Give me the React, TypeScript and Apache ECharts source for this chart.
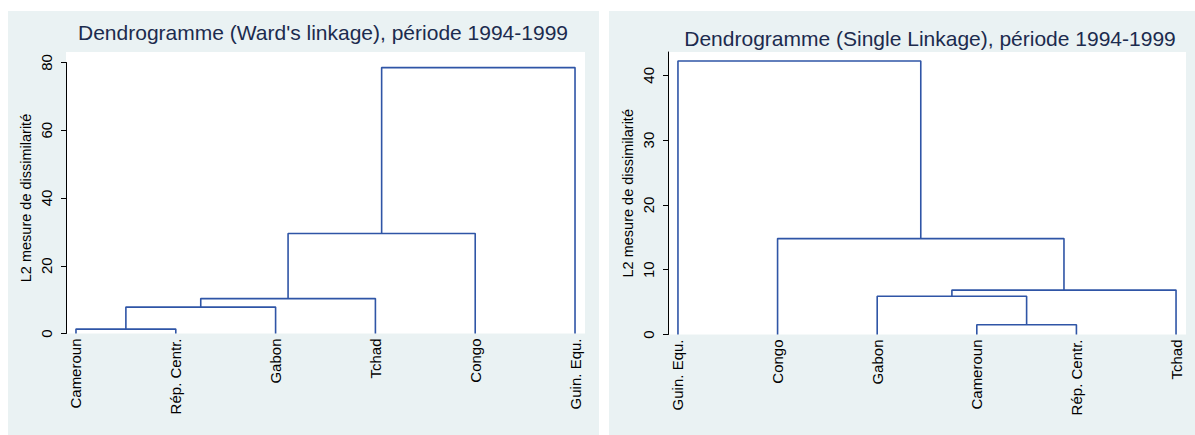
import React, { useEffect, useRef } from "react";
import * as echarts from "echarts";

// Leaves in dendrogram order; merges: [leftNode, rightNode, height]
// nodes 0..5 are leaves, 6.. are successive merges
const wardLeaves = ["Cameroun", "Rép. Centr.", "Gabon", "Tchad", "Congo", "Guin. Equ."];
const wardMerges: [number, number, number][] = [
  [0, 1, 1.3],
  [6, 2, 7.8],
  [7, 3, 10.3],
  [8, 4, 29.5],
  [9, 5, 78.5],
];
const wardTicks = [0, 20, 40, 60, 80];

const singleLeaves = ["Guin. Equ.", "Congo", "Gabon", "Cameroun", "Rép. Centr.", "Tchad"];
const singleMerges: [number, number, number][] = [
  [3, 4, 1.5],
  [2, 6, 5.9],
  [7, 5, 6.85],
  [1, 8, 14.8],
  [0, 9, 42.2],
];
const singleTicks = [0, 10, 20, 30, 40];

const titles = [
  "Dendrogramme (Ward's linkage), période 1994-1999",
  "Dendrogramme (Single Linkage), période 1994-1999",
];
const yName = "L2 mesure de dissimilarité";

const FONT = "'Liberation Sans', Arial, sans-serif";
const LINE = "#2f55a6";
const TITLE = "#1c2b4e";

function segments(leaves: string[], merges: [number, number, number][]) {
  const pos: [number, number][] = leaves.map((_, i) => [i + 1, 0]);
  const out: [number, number][][] = [];
  merges.forEach(([a, b, h]) => {
    const pa = pos[a];
    const pb = pos[b];
    out.push([
      [pa[0], pa[1]],
      [pa[0], h],
      [pb[0], h],
      [pb[0], pb[1]],
    ]);
    pos.push([(pa[0] + pb[0]) / 2, h]);
  });
  return out;
}

export default function App() {
  const ref = useRef<HTMLDivElement>(null);
  useEffect(() => {
    document.body.style.margin = "0";
    const chart = echarts.init(ref.current!, undefined, { renderer: "svg" });
    const axisLabelBase = { color: "#000", fontFamily: FONT, fontSize: 15 };
    const mkX = (gridIndex: number, leaves: string[]) => ({
      type: "value",
      gridIndex,
      min: 0.9,
      max: 6.1,
      axisLine: { show: false },
      axisTick: { show: false },
      splitLine: { show: false },
      axisLabel: {
        ...axisLabelBase,
        customValues: leaves.map((_, i) => i + 1),
        formatter: (v: number) => leaves[Math.round(v) - 1] ?? "",
        rotate: 90,
        margin: 5,
      },
    });
    const mkY = (gridIndex: number, max: number, ticks: number[]) => ({
      type: "value",
      gridIndex,
      min: 0,
      max,
      name: yName,
      nameLocation: "middle",
      nameGap: 33,
      nameRotate: 90,
      nameTextStyle: { color: "#000", fontFamily: FONT, fontSize: 14.5 },
      axisLine: { show: true, lineStyle: { color: "#000", width: 1 } },
      axisTick: { show: true, length: 5, customValues: ticks, lineStyle: { color: "#000" } },
      splitLine: { show: false },
      axisLabel: { ...axisLabelBase, customValues: ticks, rotate: 90, margin: 12 },
    });
    const seriesFor = (segs: [number, number][][], idx: number) =>
      segs.map((d) => ({
        type: "line",
        xAxisIndex: idx,
        yAxisIndex: idx,
        data: d,
        symbol: "none",
        clip: false,
        lineStyle: { color: LINE, width: 1.6 },
        silent: true,
      }));
    chart.setOption({
      animation: false,
      backgroundColor: "#fff",
      graphic: [
        { type: "rect", z: -10, shape: { x: 8, y: 11, width: 591, height: 430 }, style: { fill: "#eaf2f3" } },
        { type: "rect", z: -10, shape: { x: 609, y: 11, width: 590, height: 430 }, style: { fill: "#eaf2f3" } },
        { type: "rect", z: -9, shape: { x: 66, y: 52, width: 519, height: 281.5 }, style: { fill: "#fff" } },
        { type: "rect", z: -9, shape: { x: 668, y: 52, width: 518, height: 282.5 }, style: { fill: "#fff" } },
      ],
      title: [
        {
          text: titles[0],
          left: 318,
          top: 17,
          textAlign: "center",
          textStyle: { color: TITLE, fontFamily: FONT, fontSize: 21, fontWeight: "normal" },
        },
        {
          text: titles[1],
          left: 925,
          top: 23,
          textAlign: "center",
          textStyle: { color: TITLE, fontFamily: FONT, fontSize: 21, fontWeight: "normal" },
        },
      ],
      grid: [
        { left: 66, right: 1195 - 585, top: 62.5, bottom: 435 - 333.5, containLabel: false },
        { left: 668, right: 1195 - 1186, top: 52, bottom: 435 - 334.5, containLabel: false },
      ],
      xAxis: [mkX(0, wardLeaves), mkX(1, singleLeaves)],
      yAxis: [mkY(0, 80, wardTicks), mkY(1, 43.6, singleTicks)],
      series: [...seriesFor(segments(wardLeaves, wardMerges), 0), ...seriesFor(segments(singleLeaves, singleMerges), 1)],
    });
    return () => chart.dispose();
  }, []);
  return <div ref={ref} style={{ width: 1195, height: 435 }} />;
}
